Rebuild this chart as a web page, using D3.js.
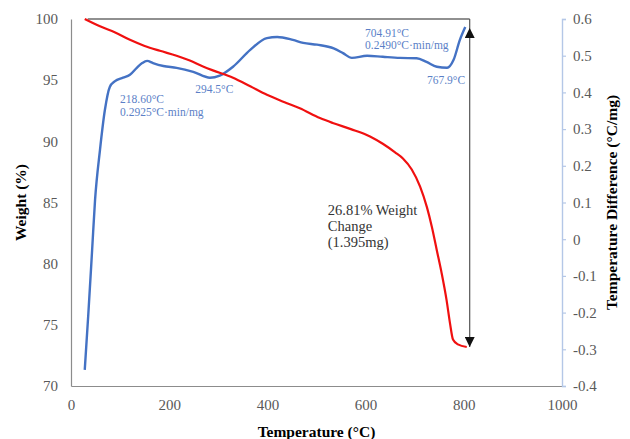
<!DOCTYPE html>
<html>
<head>
<meta charset="utf-8">
<script src="https://cdn.jsdelivr.net/npm/d3@7"></script>
<style>
  html, body { margin: 0; padding: 0; background: #fff; }
  svg { display: block; }
</style>
</head>
<body>
<svg id="chart" width="630" height="439"></svg>
<script>
// TGA weight-loss curve (left axis) and DTA temperature difference (right axis)
const weightTemp = [28, 59, 90, 120, 150, 181, 215, 242, 270, 289, 330, 365, 399, 435, 466, 507, 533, 570, 609, 635, 660, 676, 694, 711, 725, 735, 745, 755, 765, 772, 778, 788, 806];
const weightPct  = [100, 99.4, 98.9, 98.3, 97.8, 97.4, 97.0, 96.6, 96.1, 95.8, 95.2, 94.5, 93.8, 93.2, 92.7, 91.9, 91.5, 91.0, 90.4, 89.8, 89.1, 88.6, 87.7, 86.3, 84.6, 83.0, 81.1, 79.2, 77.0, 75.1, 73.8, 73.4, 73.19];

const dtaTemp = [28, 35, 43, 49, 59, 69, 79, 89, 106, 120, 134, 145, 155, 167, 188, 215, 249, 283, 303, 330, 365, 399, 420, 452, 473, 501, 535, 554, 572, 603, 635, 670, 704, 724, 745, 766, 779, 792, 803];
const dtaValue = [-0.356, -0.21, -0.03, 0.107, 0.243, 0.352, 0.415, 0.43, 0.44, 0.448, 0.467, 0.48, 0.486, 0.48, 0.472, 0.467, 0.456, 0.44, 0.446, 0.47, 0.516, 0.548, 0.551, 0.543, 0.535, 0.53, 0.52, 0.507, 0.494, 0.5, 0.497, 0.494, 0.493, 0.483, 0.47, 0.467, 0.488, 0.543, 0.578];

const xTicks = [0, 200, 400, 600, 800, 1000];
const leftTicks = [70, 75, 80, 85, 90, 95, 100];
const rightTicks = [-0.4, -0.3, -0.2, -0.1, 0, 0.1, 0.2, 0.3, 0.4, 0.5, 0.6];

// Total mass loss and the temperature where it is marked
const weightStart = 100;
const weightChange = 26.81;
const changeMarkTemp = 812;

const peakNotes = [
  { t: 100, v: 0.371, lines: ["218.60°C", "0.2925°C·min/mg"] },
  { t: 253, v: 0.398, lines: ["294.5°C"] },
  { t: 599, v: 0.551, lines: ["704.91°C", "0.2490°C·min/mg"] },
  { t: 725, v: 0.423, lines: ["767.9°C"] }
];
const changeNote = { t: 523, w: 84.0, lines: ["26.81% Weight", "Change", "(1.395mg)"] };

const W = 630, H = 439;
const margin = { top: 19, right: 68, bottom: 53, left: 71 };
const serif = "'Liberation Serif', 'Times New Roman', serif";
const svg = d3.select("#chart").style("font-family", serif);

const x = d3.scaleLinear().domain([0, 1000]).range([margin.left, W - margin.right]);
const yL = d3.scaleLinear().domain([70, 100]).range([H - margin.bottom, margin.top]);
const yR = d3.scaleLinear().domain([-0.4, 0.6]).range([H - margin.bottom, margin.top]);

const tickColor = "#595959";

function styleAxis(g, domainColor) {
  g.attr("font-family", null).attr("font-size", 15);
  g.select(".domain").attr("stroke", domainColor).attr("stroke-width", 1.2);
  g.selectAll("text").attr("fill", tickColor).style("font-family", serif);
}

// Bottom axis
svg.append("g")
  .attr("transform", `translate(0,${H - margin.bottom})`)
  .call(d3.axisBottom(x).tickValues(xTicks).tickSize(0).tickPadding(13).tickFormat(d3.format("d")))
  .call(g => styleAxis(g, "#8c8c8c"));

// Left axis
svg.append("g")
  .attr("transform", `translate(${margin.left},0)`)
  .call(d3.axisLeft(yL).tickValues(leftTicks).tickSize(0).tickPadding(13).tickFormat(d3.format("d")))
  .call(g => styleAxis(g, "#8c8c8c"));

// Right axis
svg.append("g")
  .attr("transform", `translate(${W - margin.right},0)`)
  .call(d3.axisRight(yR).tickValues(rightTicks).tickSize(4).tickPadding(7)
    .tickFormat(d => String(+d.toFixed(1))))
  .call(g => {
    styleAxis(g, "#b4c7e7");
    g.select(".domain").attr("stroke-width", 1.4);
    g.selectAll(".tick line").attr("stroke", "#b4c7e7").attr("stroke-width", 1.2);
  });

// Axis titles
svg.append("text")
  .attr("x", (margin.left + W - margin.right) / 2).attr("y", 437)
  .attr("text-anchor", "middle").attr("font-size", 15.5).attr("font-weight", "bold")
  .text("Temperature (°C)");
svg.append("text")
  .attr("transform", `translate(26,${(margin.top + H - margin.bottom) / 2}) rotate(-90)`)
  .attr("text-anchor", "middle").attr("font-size", 15.5).attr("font-weight", "bold")
  .text("Weight (%)");
svg.append("text")
  .attr("transform", `translate(617,${(margin.top + H - margin.bottom) / 2}) rotate(-90)`)
  .attr("text-anchor", "middle").attr("font-size", 15.5).attr("font-weight", "bold")
  .text("Temperature Difference (°C/mg)");

// Reference line at the starting weight
svg.append("line")
  .attr("x1", x(34)).attr("x2", x(changeMarkTemp))
  .attr("y1", yL(weightStart)).attr("y2", yL(weightStart))
  .attr("stroke", "#222").attr("stroke-width", 1.2);

// Double arrow showing the total weight change
const defs = svg.append("defs");
defs.append("marker").attr("id", "arrowEnd")
  .attr("viewBox", "0 0 10 10").attr("refX", 10).attr("refY", 5)
  .attr("markerWidth", 10).attr("markerHeight", 10).attr("markerUnits", "userSpaceOnUse")
  .attr("orient", "auto")
  .append("path").attr("d", "M0,0 L10,5 L0,10 Z").attr("fill", "#111");
defs.append("marker").attr("id", "arrowStart")
  .attr("viewBox", "0 0 10 10").attr("refX", 19).attr("refY", 5)
  .attr("markerWidth", 10).attr("markerHeight", 10).attr("markerUnits", "userSpaceOnUse")
  .attr("orient", "auto-start-reverse")
  .append("path").attr("d", "M0,0 L10,5 L0,10 Z").attr("fill", "#111");
svg.append("line")
  .attr("x1", x(changeMarkTemp)).attr("x2", x(changeMarkTemp))
  .attr("y1", yL(weightStart)).attr("y2", yL(weightStart - weightChange))
  .attr("stroke", "#555").attr("stroke-width", 1.2)
  .attr("marker-start", "url(#arrowStart)")
  .attr("marker-end", "url(#arrowEnd)");

// DTA curve
const dtaLine = d3.line()
  .x(d => x(d[0])).y(d => yR(d[1]))
  .curve(d3.curveMonotoneX);
svg.append("path")
  .datum(d3.zip(dtaTemp, dtaValue))
  .attr("d", dtaLine)
  .attr("fill", "none").attr("stroke", "#4472c4").attr("stroke-width", 2.4)
  .attr("stroke-linejoin", "round");

// TGA curve
const weightLine = d3.line()
  .x(d => x(d[0])).y(d => yL(d[1]))
  .curve(d3.curveMonotoneX);
svg.append("path")
  .datum(d3.zip(weightTemp, weightPct))
  .attr("d", weightLine)
  .attr("fill", "none").attr("stroke", "#f01010").attr("stroke-width", 2.2)
  .attr("stroke-linejoin", "round");

// Peak annotations
peakNotes.forEach(n => {
  const t = svg.append("text")
    .attr("x", x(n.t)).attr("y", yR(n.v))
    .attr("font-size", 11.5).attr("fill", "#5b7fc7");
  n.lines.forEach((s, i) => {
    t.append("tspan").attr("x", x(n.t)).attr("dy", i === 0 ? 0 : 12.5).text(s);
  });
});

// Weight change annotation
const wc = svg.append("text")
  .attr("x", x(changeNote.t)).attr("y", yL(changeNote.w))
  .attr("font-size", 14.5).attr("fill", "#333");
changeNote.lines.forEach((s, i) => {
  wc.append("tspan").attr("x", x(changeNote.t)).attr("dy", i === 0 ? 0 : 16).text(s);
});
</script>
</body>
</html>
